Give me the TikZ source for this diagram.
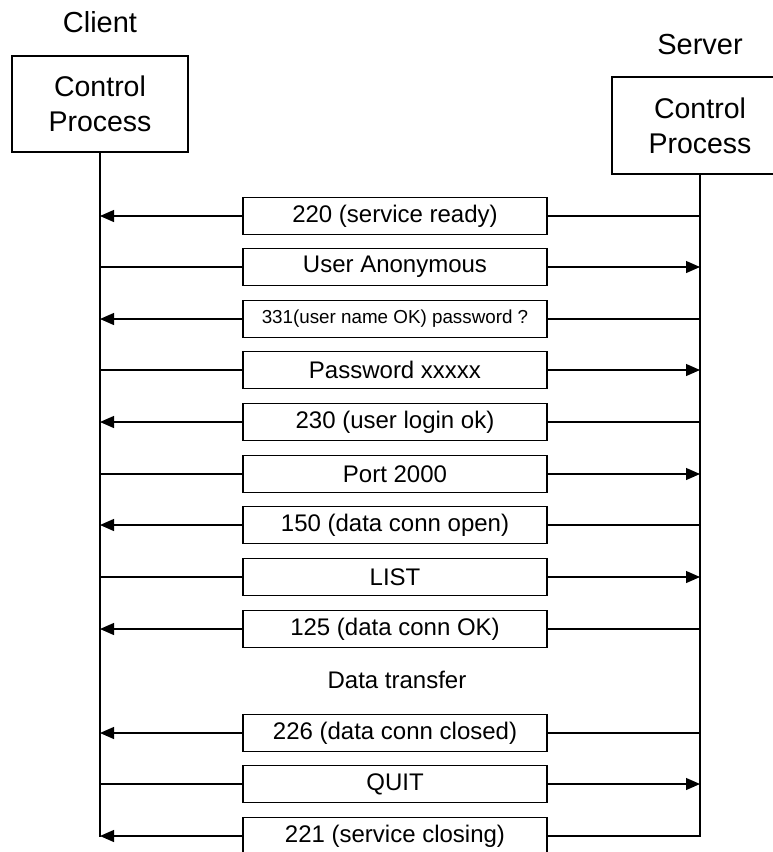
\documentclass[tikz,border=0pt]{standalone}
\usepackage{fontspec}
\setmainfont{Liberation Sans}
\usetikzlibrary{arrows.meta}
\begin{document}
\begin{tikzpicture}[x=1pt,y=-1pt,
  every node/.style={font=\fontsize{24}{28}\selectfont},
  title/.style={font=\fontsize{29}{34}\selectfont},
  procbox/.style={draw, line width=1.2pt, inner sep=0pt, align=center, font=\fontsize{28.5}{35}\selectfont},
  msgbox/.style={draw, line width=1.2pt, minimum width=304pt, minimum height=37pt, inner sep=0pt},
  life/.style={line width=1.2pt},
  msg/.style={line width=1.2pt},
  msgarrow/.style={line width=1.2pt, -{Triangle[length=14pt,width=12pt]}}
]
\useasboundingbox (0,0) rectangle (773,852);

\node[title] (ctitle) at (100,22) {Client};
\node[title] (stitle) at (700,45) {Server};

\node[procbox, minimum width=176pt, minimum height=96pt] (cbox) at (100,104) {Control\\Process};
\node[procbox, minimum width=176pt, minimum height=97pt] (sbox) at (700,125.5) {Control\\Process};

\coordinate (cl) at (100,837);
\coordinate (sl) at (700,837);
\draw[life] (cbox.south) -- (cl);
\draw[life] (sbox.south -| sl) -- (sl);

\foreach \y/\t/\d/\s [count=\i] in {
  216/220 (service ready)/l/24,
  267/User Anonymous/r/24,
  319/331(user name OK) password ?/l/18.8,
  370/Password xxxxx/r/24,
  422/230 (user login ok)/l/24,
  474/Port 2000/r/24,
  525/150 (data conn open)/l/24,
  577/LIST/r/24,
  629/125 (data conn OK)/l/24,
  733/226 (data conn closed)/l/24,
  784/QUIT/r/24,
  836/221 (service closing)/l/24}{
  \node[msgbox, font=\fontsize{\s}{\s}\selectfont] (m\i) at (395,\y) {\t};
  \if\d l
    \draw[msg] (m\i.east) -- (m\i.east -| sl);
    \draw[msgarrow] (m\i.west) -- (m\i.west -| cl);
  \else
    \draw[msg] (m\i.west) -- (m\i.west -| cl);
    \draw[msgarrow] (m\i.east) -- (m\i.east -| sl);
  \fi
}

\node (dt) at (397,680) {Data transfer};
\end{tikzpicture}
\end{document}
